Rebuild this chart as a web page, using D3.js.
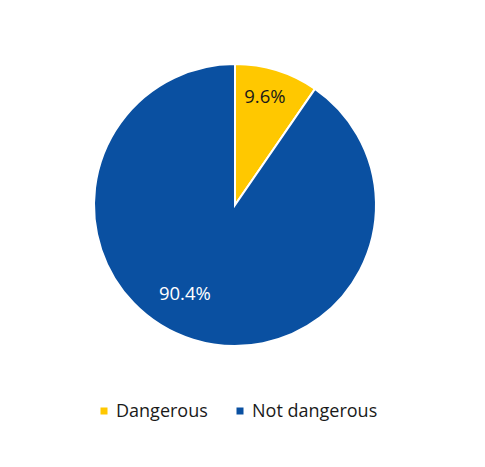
<!DOCTYPE html>
<html>
<head>
<meta charset="utf-8">
<script src="https://cdn.jsdelivr.net/npm/d3@7"></script>
<style>
  body { margin: 0; background: #fff; }
  text { font-family: "Open Sans", Lato, sans-serif; }
</style>
</head>
<body>
<div id="chart"></div>
<script>
var categories = ["Dangerous", "Not dangerous"];
var values = [9.6, 90.4];
var colors = ["#FFC800", "#0A50A1"];
var labelColors = ["#1a1a1a", "#ffffff"];

var width = 485, height = 467;
var cx = 235, cy = 205, radius = 141;

// label placement like Excel's "best fit": radius fraction, angle shift (deg)
var labelPlace = [[0.795, -1.8], [0.72, 12.3]];

var svg = d3.select("#chart").append("svg")
    .attr("width", width)
    .attr("height", height);

var data = categories.map(function(c, i) { return {name: c, value: values[i], i: i}; });

var pie = d3.pie().sort(null).value(function(d) { return d.value; });
var arc = d3.arc().innerRadius(0).outerRadius(radius);

var g = svg.append("g").attr("transform", "translate(" + cx + "," + cy + ")");

var slices = g.selectAll("g.slice")
    .data(pie(data))
    .enter().append("g")
    .attr("class", "slice");

slices.append("path")
    .attr("d", arc)
    .attr("fill", function(d) { return colors[d.data.i]; })
    .attr("stroke", "#fff")
    .attr("stroke-width", 2);

slices.append("text")
    .attr("transform", function(d) {
      var p = labelPlace[d.data.i];
      var a = (d.startAngle + d.endAngle) / 2 + p[1] * Math.PI / 180;
      var r = radius * p[0];
      return "translate(" + (r * Math.sin(a)) + "," + (-r * Math.cos(a)) + ")";
    })
    .attr("text-anchor", "middle")
    .attr("dy", "0.35em")
    .attr("font-size", 18.5)
    .attr("fill", function(d) { return labelColors[d.data.i]; })
    .text(function(d) { return d3.format(".1f")(d.data.value) + "%"; });

// legend
var legend = svg.append("g").attr("transform", "translate(0,411)");
var legendX = [104, 240];

var items = legend.selectAll("g.item")
    .data(data)
    .enter().append("g")
    .attr("class", "item")
    .attr("transform", function(d) { return "translate(" + legendX[d.i] + ",0)"; });

items.append("rect")
    .attr("x", -3.5).attr("y", -3.5)
    .attr("width", 7).attr("height", 7)
    .attr("fill", function(d) { return colors[d.i]; });

items.append("text")
    .attr("x", 12)
    .attr("dy", "0.35em")
    .attr("font-size", 18)
    .attr("fill", "#1a1a1a")
    .text(function(d) { return d.name; });
</script>
</body>
</html>
